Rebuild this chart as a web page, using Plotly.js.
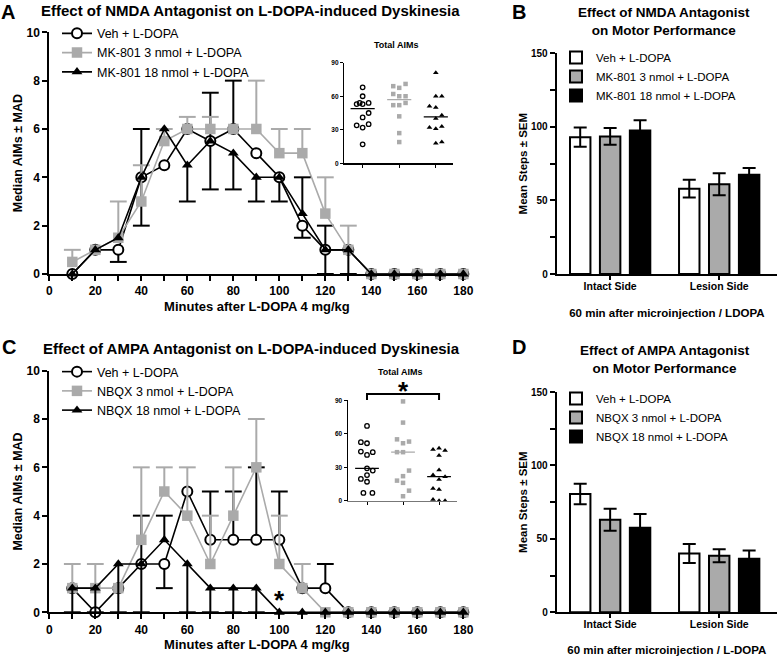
<!DOCTYPE html>
<html><head><meta charset="utf-8">
<script src="https://cdn.plot.ly/plotly-3.0.1.min.js"></script>
<style>html,body{margin:0;padding:0;background:#fff}#chart{width:777px;height:656px}</style>
</head><body><div id="chart"></div>
<script>
// ---------------- data ----------------
const minutes = [10,20,30,40,50,60,70,80,90,100,110,120,130,140,150,160,170,180];

// Panel A (NMDA antagonist) — median AIMs, + / - MAD
const nmdaVeh       = [0,1,1,4,4.5,6,5.5,6,5,4,2,1,1,0,0,0,0,0];
const nmdaVehPlus   = [0,0,0,2,0,0,2,2,0,0,0,1,0,0,0,0,0,0];
const nmdaVehMinus  = [0,0,0.5,2,0,0,2,0,0,1,0.5,1,0,0,0,0,0,0];
const nmdaMk3       = [0.5,1,1.5,3,5.5,6,6,6,6,5,5,2.5,1,0,0,0,0,0];
const nmdaMk3Plus   = [0.5,0,1.5,1.5,0.5,0.5,0.5,0,2,1,1,1.5,1,0,0,0,0,0];
const nmdaMk3Minus  = [0,0,0,0,0,0,0,0,0,0,0,0,0,0,0,0,0,0];
const nmdaMk18      = [0,1,1.5,4,6,4.5,5.5,5,4,4,2.5,1,1,0,0,0,0,0];
const nmdaMk18Plus  = [0,0,0,0,0,0,0,0,0,0,1.5,0,0,0,0,0,0,0];
const nmdaMk18Minus = [0,0,0,0,0,1.5,0,1.5,1,0,0,0,1,0,0,0,0,0];

// Panel C (AMPA antagonist)
const ampaVeh       = [1,0,1,2,2,5,3,3,3,3,1,1,0,0,0,0,0,0];
const ampaVehPlus   = [0,0,0,2,0,0,2,2,3,2,0,1,0,0,0,0,0,0];
const ampaVehMinus  = [0,0,0,0,1,0,0,0,0,0,0,0,0,0,0,0,0,0];
const ampaNb3       = [1,1,1,3,5,4,2,4,6,2,1,0,0,0,0,0,0,0];
const ampaNb3Plus   = [1,1,0,3,1,2,2,2,2,2,1,0,0,0,0,0,0,0];
const ampaNb3Minus  = [0,0,0,0,0,0,0,0,0,0,0,0,0,0,0,0,0,0];
const ampaNb18      = [1,1,2,2,3,2,1,1,1,0,0,0,0,0,0,0,0,0];
const ampaNb18Plus  = [0,0,0,0,1,0,0,0,0,0,0,0,0,0,0,0,0,0];
const ampaNb18Minus = [1,1,2,2,0,2,1,1,1,0,0,0,0,0,0,0,0,0];

// Insets: Total AIMs per animal
const totalA_Veh  = [68,60,53,54,53,54,45,41,34,35,32,17];
const totalA_Mk3  = [69,67.5,71,62,60,60,52,52,54,42,27,19];
const totalA_Mk18 = [81,60,60,51,50,43,40,32,31,33,18,19];
const jitterA_Veh  = [0,0,-0.164,-0.082,0,0.164,0.164,0,-0.164,0.164,0,0];
const jitterA_Mk3  = [-0.164,0,0.173,-0.164,0,0.173,-0.164,0,0.173,0,0,0];
const jitterA_Mk18 = [0,0,0.164,-0.173,0,0.164,0,-0.173,0,0.164,0,0.164];

const totalC_Veh  = [67,52.5,51.5,44,41,43.5,29,27,23,19.5,17,7,7];
const totalC_Nb3  = [89,70,55,51.5,53,43.5,43.5,27,22,18,16,9,4];
const totalC_Nb18 = [46,47,45,40.5,27.5,23,21.5,19,11,10,1,0,0];
const jitterC_Veh  = [0,-0.17,0,-0.17,0,0.16,0,0.16,0,-0.17,0,-0.1,0.15];
const jitterC_Nb3  = [0,0,-0.167,0,0.167,-0.167,0,0.167,0,-0.167,0,0.167,0];
const jitterC_Nb18 = [-0.167,0,0.167,0,0,-0.167,0.167,0,-0.167,0,-0.167,0,0.167];

// Bar panels: mean steps ± SEM
const sides = ['Intact Side','Lesion Side'];
const nmdaStepsVeh  = [93,58];   const nmdaSemVeh  = [6.5,6];
const nmdaStepsMk3  = [93.5,61]; const nmdaSemMk3  = [5.7,7.5];
const nmdaStepsMk18 = [97.5,67.5]; const nmdaSemMk18 = [7,4.5];
const ampaStepsVeh  = [80.5,40]; const ampaSemVeh  = [7,6.5];
const ampaStepsNb3  = [63,38.5]; const ampaSemNb3  = [7.5,4.5];
const ampaStepsNb18 = [57.5,36.5]; const ampaSemNb18 = [9.5,5.5];

const nmdaNames = ['Veh + L-DOPA','MK-801 3 nmol + L-DOPA','MK-801 18 nmol + L-DOPA'];
const ampaNames = ['Veh + L-DOPA','NBQX 3 nmol + L-DOPA','NBQX 18 nmol + L-DOPA'];

// ---------------- helpers ----------------
const W = 777, H = 656;
const px = v => v / W;
const py = v => 1 - v / H;
const FONT = 'Arial, "Liberation Sans", Helvetica, sans-serif';
const GRAY = '#aaaaaa';
const BLACK = '#000000';

function median(a){ const s=[...a].sort((p,q)=>p-q); const n=s.length; return n%2 ? s[(n-1)/2] : (s[n/2-1]+s[n/2])/2; }

const styles = [
  {symbol:'circle', size:10, color:'#ffffff', line:{color:BLACK,width:2}, lc:BLACK},
  {symbol:'square', size:10.5, color:GRAY, line:{color:GRAY,width:0}, lc:GRAY},
  {symbol:'triangle-up', size:9.5, color:BLACK, line:{color:BLACK,width:0}, lc:BLACK}
];

function seriesTrace(name, y, plus, minus, st, xa, ya, legend){
  return {type:'scatter', mode:'lines+markers', name, x:minutes, y, xaxis:xa, yaxis:ya, legend,
    line:{color:st.lc, width:1.6}, marker:{symbol:st.symbol, size:st.size, color:st.color, line:st.line},
    error_y:{type:'data', symmetric:false, array:plus, arrayminus:minus, color:st.lc, thickness:2, width:0},
    cliponaxis:false, hoverinfo:'x+y+name'};
}
function capsTrace(y, plus, minus, color, xa, ya){
  const cx=[], cy=[];
  for(let i=0;i<minutes.length;i++){
    if(plus[i]>0){cx.push(minutes[i]); cy.push(y[i]+plus[i]);}
    if(minus[i]>0){cx.push(minutes[i]); cy.push(y[i]-minus[i]);}
  }
  return {type:'scatter', mode:'markers', x:cx, y:cy, xaxis:xa, yaxis:ya, showlegend:false, hoverinfo:'skip',
    marker:{symbol:'line-ew', size:12, color, line:{color, width:2}}, cliponaxis:false};
}
const insetStyles = [
  {symbol:'circle', size:4.5, color:'rgba(255,255,255,0)', line:{color:BLACK,width:1.3}, lc:BLACK},
  {symbol:'square', size:4.5, color:GRAY, line:{width:0}, lc:GRAY},
  {symbol:'triangle-up', size:5, color:BLACK, line:{width:0}, lc:BLACK}
];
function insetTraces(groups, jitters, xa, ya){
  const out=[];
  groups.forEach((vals,i)=>{
    const st=insetStyles[i];
    out.push({type:'scatter', mode:'markers', x:vals.map((v,k)=>i+jitters[i][k]), y:vals, xaxis:xa, yaxis:ya,
      showlegend:false, marker:{symbol:st.symbol,size:st.size,color:st.color,line:st.line}, cliponaxis:false, hoverinfo:'y'});
    const m=median(vals);
    out.push({type:'scatter', mode:'lines', x:[i-0.33,i+0.33], y:[m,m], xaxis:xa, yaxis:ya, showlegend:false,
      line:{color:st.lc,width:1.3}, hoverinfo:'skip', cliponaxis:false});
  });
  return out;
}
const barFills = ['#ffffff','#aaaaaa','#000000'];
function barTraces(names, vals, sems, xa, ya, legend){
  return names.map((n,i)=>({type:'bar', name:n, x:sides, y:vals[i], xaxis:xa, yaxis:ya, legend,
    marker:{color:barFills[i], line:{color:BLACK,width:2}},
    error_y:{type:'data', array:sems[i], color:BLACK, thickness:2, width:6.5}}));
}

// ---------------- traces ----------------
const traces = [];
[[nmdaVeh,nmdaVehPlus,nmdaVehMinus],[nmdaMk3,nmdaMk3Plus,nmdaMk3Minus],[nmdaMk18,nmdaMk18Plus,nmdaMk18Minus]].forEach((s,i)=>{
  traces.push(seriesTrace(nmdaNames[i], s[0], s[1], s[2], styles[i], 'x', 'y', 'legend'));
  traces.push(capsTrace(s[0], s[1], s[2], styles[i].lc, 'x', 'y'));
});
traces.push(...insetTraces([totalA_Veh,totalA_Mk3,totalA_Mk18],[jitterA_Veh,jitterA_Mk3,jitterA_Mk18],'x2','y2'));
traces.push(...barTraces(nmdaNames,[nmdaStepsVeh,nmdaStepsMk3,nmdaStepsMk18],[nmdaSemVeh,nmdaSemMk3,nmdaSemMk18],'x3','y3','legend2'));
[[ampaVeh,ampaVehPlus,ampaVehMinus],[ampaNb3,ampaNb3Plus,ampaNb3Minus],[ampaNb18,ampaNb18Plus,ampaNb18Minus]].forEach((s,i)=>{
  traces.push(seriesTrace(ampaNames[i], s[0], s[1], s[2], styles[i], 'x4', 'y4', 'legend3'));
  traces.push(capsTrace(s[0], s[1], s[2], styles[i].lc, 'x4', 'y4'));
});
traces.push(...insetTraces([totalC_Veh,totalC_Nb3,totalC_Nb18],[jitterC_Veh,jitterC_Nb3,jitterC_Nb18],'x5','y5'));
traces.push(...barTraces(ampaNames,[ampaStepsVeh,ampaStepsNb3,ampaStepsNb18],[ampaSemVeh,ampaSemNb3,ampaSemNb18],'x6','y6','legend4'));

// ---------------- axes ----------------
const bold = (size)=>({family:FONT, size, color:BLACK, weight:700});
const baseAxis = {showline:true, linecolor:BLACK, linewidth:2, ticks:'outside', tickcolor:BLACK, tickwidth:2, ticklen:5,
  showgrid:false, zeroline:false, automargin:false, fixedrange:true};

function mainX(anchor){ return Object.assign({}, baseAxis, {anchor, domain:[px(49.3),px(464.5)], range:[0,180.5],
  tick0:0, dtick:20, minor:{dtick:10, ticks:'outside', ticklen:5, tickwidth:2, tickcolor:BLACK},
  tickfont:bold(12), title:{text:'Minutes after L-DOPA 4 mg/kg', font:bold(13), standoff:4}}); }
function mainY(anchor, dom){ return Object.assign({}, baseAxis, {anchor, domain:dom, range:[0,10], dtick:2,
  tickfont:bold(12), title:{text:'Median AIMs ± MAD', font:bold(12.5), standoff:1}}); }
function insetX(anchor, dom, rng, lc, lw){ return Object.assign({}, baseAxis, {anchor, domain:dom, range:rng, linewidth:lw, linecolor:lc,
  tickvals:[0,1,2], showticklabels:false, ticklen:3, tickwidth:1}); }
function insetY(anchor, dom){ return Object.assign({}, baseAxis, {anchor, domain:dom, range:[0,90], linewidth:1.2,
  tickvals:[0,30,60,90], ticklen:3, tickwidth:1, tickfont:bold(6.5)}); }
function barX(anchor, title, so){ return Object.assign({}, baseAxis, {anchor, domain:[px(556.7),1], type:'category',
  range:[-0.49,1.53], ticklen:4, ticklabelstandoff:-3, tickfont:bold(10.5), title:{text:title, font:bold(11.5), standoff:so}}); }
function barY(anchor, dom){ return Object.assign({}, baseAxis, {anchor, domain:dom, range:[0,150], dtick:50,
  minor:{dtick:25, ticks:'outside', ticklen:5, tickwidth:2, tickcolor:BLACK},
  tickfont:bold(10), title:{text:'Mean Steps ± SEM', font:bold(11.5), standoff:1}}); }

const legendBase = {xanchor:'left', yanchor:'top', bgcolor:'rgba(0,0,0,0)', borderwidth:0, itemwidth:30,
  tracegroupgap:0, itemclick:false, itemdoubleclick:false};

const layout = {
  width:W, height:H, margin:{l:0,r:0,t:0,b:0}, paper_bgcolor:'#ffffff', plot_bgcolor:'rgba(0,0,0,0)',
  font:{family:FONT, color:BLACK}, showlegend:true, barmode:'group', bargap:0.1765, bargroupgap:0.317,
  xaxis: mainX('y'), yaxis: mainY('x',[py(274),py(32.3)]),
  xaxis2: insetX('y2',[px(344),px(453)],[-0.51,2.47],BLACK,1.2), yaxis2: insetY('x2',[py(163.3),py(62.7)]),
  xaxis3: barX('y3','60 min after microinjection / LDOPA',18), yaxis3: barY('x3',[py(274),py(53.3)]),
  xaxis4: mainX('y4'), yaxis4: mainY('x4',[py(612.3),py(370.7)]),
  xaxis5: insetX('y5',[px(347.7),px(456.7)],[-0.536,2.49],'#777777',1.6), yaxis5: insetY('x5',[py(500.7),py(400.3)]),
  xaxis6: barX('y6','60 min after microinjection / L-DOPA',21), yaxis6: barY('x6',[py(612.3),py(392)]),
  legend:  Object.assign({}, legendBase, {x:px(57),  y:py(18.7), font:{family:FONT,size:12.5,color:BLACK}}),
  legend2: Object.assign({}, legendBase, {x:px(556), y:py(43),   font:{family:FONT,size:11.5,color:BLACK}}),
  legend3: Object.assign({}, legendBase, {x:px(57),  y:py(357),  font:{family:FONT,size:12.5,color:BLACK}}),
  legend4: Object.assign({}, legendBase, {x:px(556), y:py(384),  font:{family:FONT,size:11.5,color:BLACK}}),
  annotations: [
    {text:'<b>A</b>', x:px(8), y:py(0), yanchor:'top', borderpad:0, font:{family:FONT,size:20,color:BLACK}},
    {text:'<b>B</b>', x:px(519), y:py(0), yanchor:'top', borderpad:0, font:{family:FONT,size:20,color:BLACK}},
    {text:'<b>C</b>', x:px(9), y:py(346.5), font:{family:FONT,size:20,color:BLACK}},
    {text:'<b>D</b>', x:px(519), y:py(346.5), font:{family:FONT,size:20,color:BLACK}},
    {text:'<b>Effect of NMDA Antagonist on L-DOPA-induced Dyskinesia</b>', x:px(250), y:py(10.5), font:{family:FONT,size:15,color:BLACK}},
    {text:'<b>Effect of AMPA Antagonist on L-DOPA-induced Dyskinesia</b>', x:px(251.3), y:py(348.3), font:{family:FONT,size:15,color:BLACK}},
    {text:'<b>Effect of NMDA Antagonist<br>on Motor Performance</b>', x:px(664), y:py(21.3), font:{family:FONT,size:13.5,color:BLACK}},
    {text:'<b>Effect of AMPA Antagonist<br>on Motor Performance</b>', x:px(664.5), y:py(359.2), font:{family:FONT,size:13.5,color:BLACK}},
    {text:'<b>Total AIMs</b>', x:px(396.7), y:py(45), font:{family:FONT,size:9,color:BLACK}},
    {text:'<b>Total AIMs</b>', x:px(400), y:py(372.3), font:{family:FONT,size:9,color:BLACK}},
    {text:'<b>*</b>', xref:'x5', x:1, y:py(391), font:{family:FONT,size:26,color:BLACK}},
    {text:'<b>*</b>', xref:'x4', yref:'y4', x:100, y:0.5, font:{family:FONT,size:26,color:BLACK}}
  ].map(a=>Object.assign({xref:'paper', yref:'paper', showarrow:false, xanchor:'center', yanchor:'middle'}, a)),
  shapes: [
    {type:'path', xref:'x5', yref:'paper', path:`M0,${py(400)} L0,${py(394)} L2,${py(394)} L2,${py(400)}`,
     line:{color:BLACK,width:2}}
  ]
};

Plotly.newPlot('chart', traces, layout, {staticPlot:true, displayModeBar:false});
</script></body></html>
